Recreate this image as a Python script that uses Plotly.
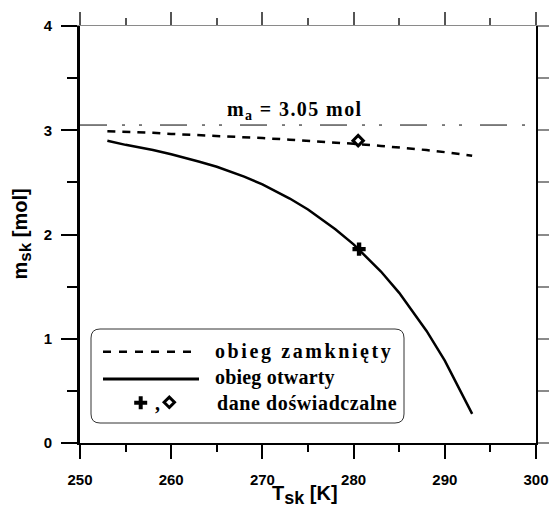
import plotly.graph_objects as go

# ---------------- data ----------------
T_model = [253, 255, 258, 260, 263, 265, 268, 270, 273, 275, 278, 280, 283, 285, 288, 290, 293]
m_closed = [2.99, 2.985, 2.975, 2.965, 2.955, 2.945, 2.935, 2.925, 2.91, 2.90, 2.885, 2.87, 2.85,
            2.835, 2.81, 2.79, 2.755]
m_open = [2.90, 2.86, 2.81, 2.77, 2.70, 2.65, 2.555, 2.48, 2.345, 2.24, 2.05, 1.905, 1.645,
          1.44, 1.075, 0.79, 0.28]
T_exp_open = [280.6]
m_exp_open = [1.86]
T_exp_closed = [280.5]
m_exp_closed = [2.90]
m_a = 3.05
x_range = [250, 300]
y_range = [0, 4]
x_ticks = [250, 260, 270, 280, 290, 300]
y_ticks = [0, 1, 2, 3, 4]
legend_labels = ["obieg zamknięty", "obieg otwarty", "dane doświadczalne"]

# ---------------- layout geometry ----------------
W, H = 549, 506
ML, MR, MT, MB = 80, 13, 26, 63
PW, PH = W - ML - MR, H - MT - MB


def px(xp):
    return (xp - ML) / PW


def py(yp):
    return (H - MB - yp) / PH


BLACK = "black"
SERIF = "Liberation Serif"
SANS = "Liberation Sans"

fig = go.Figure()

# m_a reference line (dash-dot)
fig.add_trace(go.Scatter(x=x_range, y=[m_a, m_a], mode="lines",
                         line=dict(color=BLACK, width=1, dash="27px,15px,3px,14px,3px,18px"),
                         showlegend=False, hoverinfo="skip"))
# closed cycle
fig.add_trace(go.Scatter(x=T_model, y=m_closed, mode="lines",
                         line=dict(color=BLACK, width=2.5, dash="8px,7px"),
                         showlegend=False))
# open cycle
fig.add_trace(go.Scatter(x=T_model, y=m_open, mode="lines",
                         line=dict(color=BLACK, width=2.5),
                         showlegend=False))
# experimental points
fig.add_trace(go.Scatter(x=T_exp_open, y=m_exp_open, mode="markers",
                         marker=dict(symbol="cross", size=11, color=BLACK, line=dict(width=0)),
                         showlegend=False))
fig.add_trace(go.Scatter(x=T_exp_closed, y=m_exp_closed, mode="markers",
                         marker=dict(symbol="diamond-open", size=8, color=BLACK,
                                     line=dict(width=3, color=BLACK)),
                         showlegend=False))
# helper trace for the top / right frame axes
fig.add_trace(go.Scatter(x=x_range, y=y_range, xaxis="x2", yaxis="y2", mode="markers",
                         marker=dict(opacity=0), showlegend=False, hoverinfo="skip"))

tickfont = dict(family=SANS, size=15, color=BLACK, weight="bold")

fig.update_layout(
    width=W, height=H, autosize=False,
    margin=dict(l=ML, r=MR, t=MT, b=MB, autoexpand=False),
    paper_bgcolor="white", plot_bgcolor="white",
    showlegend=False,
    xaxis=dict(range=x_range, showgrid=False, zeroline=False, automargin=False,
               showline=True, linecolor=BLACK, linewidth=2,
               ticks="outside", ticklen=14, tickwidth=2, tickcolor=BLACK,
               tickvals=x_ticks, ticktext=[f"<b>{v}</b>" for v in x_ticks],
               tickfont=tickfont, ticklabelstandoff=8,
               minor=dict(dtick=5, tick0=250, ticks="outside", ticklen=7, tickwidth=2,
                          tickcolor=BLACK, showgrid=False)),
    yaxis=dict(range=y_range, showgrid=False, zeroline=False, automargin=False,
               showline=True, linecolor=BLACK, linewidth=3,
               ticks="outside", ticklen=16, tickwidth=2, tickcolor=BLACK,
               tickvals=y_ticks, ticktext=[f"<b>{v}</b>" for v in y_ticks],
               tickfont=tickfont, ticklabelstandoff=6,
               minor=dict(dtick=0.5, tick0=0, ticks="outside", ticklen=10, tickwidth=2,
                          tickcolor=BLACK, showgrid=False)),
    xaxis2=dict(range=x_range, overlaying="x", side="top", anchor="y2", automargin=False,
                showgrid=False, zeroline=False, showline=True, linecolor="#8a8a8a", linewidth=1,
                ticks="outside", ticklen=13, tickwidth=1.5, tickcolor="#555555",
                tick0=250, dtick=10, showticklabels=False,
                minor=dict(dtick=5, tick0=250, ticks="outside", ticklen=7, tickwidth=1.5,
                           tickcolor="#555555", showgrid=False)),
    yaxis2=dict(range=y_range, overlaying="y", side="right", anchor="x2", automargin=False,
                showgrid=False, zeroline=False, showline=True, linecolor=BLACK, linewidth=1.5,
                ticks="outside", ticklen=14, tickwidth=1.5, tickcolor="#8a8a8a",
                tick0=0, dtick=1, showticklabels=False,
                minor=dict(dtick=0.5, tick0=0, ticks="outside", ticklen=14, tickwidth=1.5,
                           tickcolor="#8a8a8a", showgrid=False)),
)

annotations = []
# m_a label
annotations.append(dict(x=273.5, y=m_a, xref="x", yref="y", xanchor="center", yanchor="bottom",
                        yshift=0, showarrow=False,
                        text='<span style="letter-spacing:1.4px">m<sub>a</sub> = 3.05 mol</span>',
                        font=dict(family=SERIF, size=20, color=BLACK, weight="bold")))
# axis titles
annotations.append(dict(x=0.4945, y=0, xref="paper", yref="paper", xanchor="center", yanchor="top",
                        yshift=-37, showarrow=False,
                        text='<b>T<sub><span style="font-size:18px">sk</span></sub> [K]</b>',
                        font=dict(family=SANS, size=20, color=BLACK)))
annotations.append(dict(x=0, y=0.5, xref="paper", yref="paper", xanchor="right", yanchor="middle",
                        xshift=-44, showarrow=False, textangle=-90,
                        text='<b>m<sub><span style="font-size:17px">sk</span></sub> [mol]</b>',
                        font=dict(family=SANS, size=20, color=BLACK)))

# legend texts
leg_font = dict(family=SERIF, size=20, color=BLACK, weight="bold")
leg_rows = [(213, 351, 2.6), (213, 377.5, 0.2), (215, 402.5, 0.6)]
for lab, (lx, ly, ls) in zip(legend_labels, leg_rows):
    annotations.append(dict(x=px(lx), y=py(ly), xref="paper", yref="paper",
                            xanchor="left", yanchor="middle", showarrow=False,
                            text=f'<span style="letter-spacing:{ls}px">' + lab + "</span>",
                            font=leg_font))
annotations.append(dict(x=px(157), y=py(402.5), xref="paper", yref="paper",
                        xanchor="center", yanchor="middle", showarrow=False,
                        text=",", font=leg_font))
fig.update_layout(annotations=annotations)

# legend box and samples
shapes = []
bx0, bx1, by0, by1, r = 91, 404, 329, 423, 9
path = (f"M{px(bx0 + r)},{py(by0)} L{px(bx1 - r)},{py(by0)} Q{px(bx1)},{py(by0)} {px(bx1)},{py(by0 + r)} "
        f"L{px(bx1)},{py(by1 - r)} Q{px(bx1)},{py(by1)} {px(bx1 - r)},{py(by1)} "
        f"L{px(bx0 + r)},{py(by1)} Q{px(bx0)},{py(by1)} {px(bx0)},{py(by1 - r)} "
        f"L{px(bx0)},{py(by0 + r)} Q{px(bx0)},{py(by0)} {px(bx0 + r)},{py(by0)} Z")
shapes.append(dict(type="path", xref="paper", yref="paper", path=path,
                   line=dict(color="#333333", width=1), fillcolor="white", layer="above"))
shapes.append(dict(type="line", xref="paper", yref="paper", x0=px(103), x1=px(195),
                   y0=py(351.7), y1=py(351.7), line=dict(color=BLACK, width=2.5, dash="8px,8px")))
shapes.append(dict(type="line", xref="paper", yref="paper", x0=px(103), x1=px(199),
                   y0=py(379), y1=py(379), line=dict(color=BLACK, width=2.8)))
shapes.append(dict(type="path", xref="paper", yref="paper", xsizemode="pixel", ysizemode="pixel",
                   xanchor=px(140.7), yanchor=py(402.7),
                   path="M-6.5,-2H-2V-6.5H2V-2H6.5V2H2V6.5H-2V2H-6.5Z",
                   fillcolor=BLACK, line=dict(width=0), layer="above"))
shapes.append(dict(type="path", xref="paper", yref="paper", xsizemode="pixel", ysizemode="pixel",
                   xanchor=px(169.3), yanchor=py(402.3),
                   path="M0,-5.2L5.2,0L0,5.2L-5.2,0Z",
                   fillcolor="white", line=dict(width=3, color=BLACK), layer="above"))
fig.update_layout(shapes=shapes)

fig.write_html("out.html", config={"responsive": False, "displayModeBar": False},
               post_script="document.body.style.margin='0';document.body.style.overflow='hidden';")
